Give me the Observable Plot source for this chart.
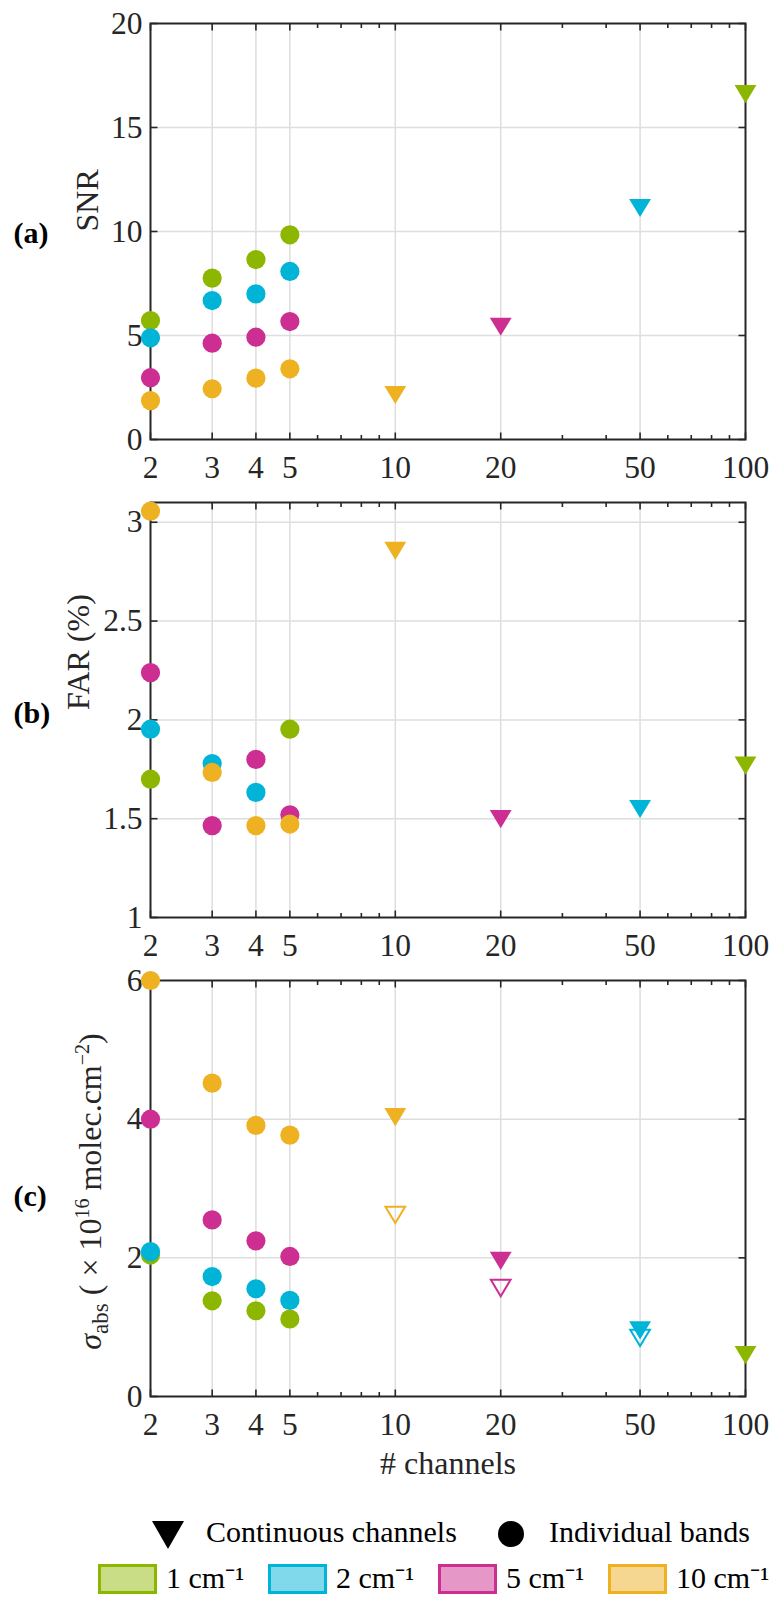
<!DOCTYPE html>
<html><head><meta charset="utf-8">
<script src="https://cdn.jsdelivr.net/npm/d3@7"></script>
<script src="https://cdn.jsdelivr.net/npm/@observablehq/plot@0.6"></script>
<style>
html,body{margin:0;padding:0;background:#fff;}
#page{width:783px;height:1608px;position:relative;overflow:hidden;background:#fff;}
#page svg{display:block;}
#page svg text{font-family:"Liberation Serif","Times New Roman",Times,serif;}
</style></head><body><div id="page"></div>
<script>
const FONT = "Liberation Serif, Times New Roman, Times, serif";
const AXIS = "#262626";
const GRID = "#dedede";

// categories
const resolutions = ["1 cm⁻¹", "2 cm⁻¹", "5 cm⁻¹", "10 cm⁻¹"];
const colors = ["#8db600", "#00b4d8", "#cc2e91", "#eeb122"];
const lightColors = ["#c8dd85", "#80d8eb", "#e597c7", "#f6d791"];
const bandCounts = [2, 3, 4, 5];
const contCounts = [100, 50, 20, 10]; // continuous channel count per resolution

// x axis ticks
const xMajor = [2, 3, 4, 5, 10, 20, 50, 100];
const xMinor = [6, 7, 8, 9, 30, 40, 60, 70, 80, 90];

// (a) SNR — individual bands, per resolution (x = 2,3,4,5)
const snr1 = [5.72, 7.76, 8.65, 9.84];
const snr2 = [4.89, 6.68, 7.00, 8.08];
const snr5 = [2.97, 4.63, 4.92, 5.67];
const snr10 = [1.87, 2.44, 2.95, 3.40];
// (a) SNR — continuous channels (1, 2, 5, 10 cm⁻¹)
const snrCont = [16.6, 11.13, 5.42, 2.14];

// (b) FAR (%) — individual bands
const far1 = [1.70, null, null, 1.953];
const far2 = [1.953, 1.779, 1.633, null];
const far5 = [2.239, 1.465, 1.80, 1.52];
const far10 = [3.056, 1.734, 1.465, 1.473];
const farCont = [1.769, 1.549, 1.498, 2.855];

// (c) sigma_abs — individual bands
const sig1 = [2.04, 1.38, 1.237, 1.118];
const sig2 = [2.09, 1.73, 1.554, 1.386];
const sig5 = [4.00, 2.547, 2.245, 2.02];
const sig10 = [6.00, 4.52, 3.91, 3.77];
const sigCont = [0.597, 0.954, 1.957, 4.03];
const sigContHollow = [null, 0.845, 1.564, 2.62];

function bandRows(series) {
  return series.flatMap((vals, i) =>
    vals.map((v, j) => ({n: bandCounts[j], v, res: resolutions[i]})).filter(d => d.v != null));
}
function contRows(vals) {
  return vals.map((v, i) => ({n: contCounts[i], v, res: resolutions[i]})).filter(d => d.v != null);
}

const triDown = {
  draw(ctx, size) {
    const s = Math.sqrt(size / Math.PI);
    const hw = s * 1.2, hh = s;
    ctx.moveTo(-hw, -hh); ctx.lineTo(hw, -hh); ctx.lineTo(0, hh); ctx.closePath();
  }
};
const tickSym = (dx, dy) => ({draw(ctx) { ctx.moveTo(0, 0); ctx.lineTo(dx, dy); }});

function panel({yDomain, yTicks, bands, cont, hollow, ylabel, ylabelDx, tag, tagDy = 0, height, marginTop, marginBottom, xTitle}) {
  const yGrid = yTicks.filter(t => t > yDomain[0] && t < yDomain[1]);
  const xGrid = xMajor.filter(t => t > 2 && t < 100);
  const tickOpts = {fill: "none", stroke: AXIS, strokeWidth: 1.6};
  const txt = {fill: AXIS, fontSize: 31.5, fontFamily: FONT};
  const marks = [
    Plot.ruleX(xGrid, {x: d => d, stroke: GRID, strokeWidth: 1.5}),
    Plot.ruleY(yGrid, {y: d => d, stroke: GRID, strokeWidth: 1.5}),
    Plot.dot(xMajor, {x: d => d, frameAnchor: "bottom", symbol: tickSym(0, -7), ...tickOpts}),
    Plot.dot(xMinor, {x: d => d, frameAnchor: "bottom", symbol: tickSym(0, -4.5), ...tickOpts}),
    Plot.dot(xMajor, {x: d => d, frameAnchor: "top", symbol: tickSym(0, 7), ...tickOpts}),
    Plot.dot(xMinor, {x: d => d, frameAnchor: "top", symbol: tickSym(0, 4.5), ...tickOpts}),
    Plot.dot(yTicks, {y: d => d, frameAnchor: "left", symbol: tickSym(7, 0), ...tickOpts}),
    Plot.dot(yTicks, {y: d => d, frameAnchor: "right", symbol: tickSym(-7, 0), ...tickOpts}),
    Plot.frame({stroke: AXIS, strokeWidth: 2}),
    Plot.text(xMajor, {x: d => d, frameAnchor: "bottom", dy: 38, lineAnchor: "bottom", text: d => String(d), ...txt}),
    Plot.text(yTicks, {y: d => d, frameAnchor: "left", dx: -8, textAnchor: "end", lineAnchor: "middle", text: d => String(d), ...txt}),
    Plot.text([ylabel], {frameAnchor: "left", dx: ylabelDx, rotate: -90, lineAnchor: "bottom", text: d => d, ...txt, fontSize: 32}),
    Plot.text([tag], {frameAnchor: "left", dx: -137, dy: tagDy, textAnchor: "start", lineAnchor: "middle", text: d => d, ...txt, fontSize: 30, fill: "#000", fontWeight: "bold"}),
    Plot.dot(bandRows(bands), {x: "n", y: "v", fill: "res", r: 9.6, symbol: "circle"}),
    Plot.dot(contRows(cont), {x: "n", y: "v", fill: "res", r: 9.1, symbol: triDown})
  ];
  if (hollow) marks.push(Plot.dot(contRows(hollow), {x: "n", y: "v", stroke: "res", fill: "none", strokeWidth: 2, r: 8.2, symbol: triDown}));
  if (xTitle) marks.push(Plot.text([xTitle], {frameAnchor: "bottom", dy: 77, lineAnchor: "bottom", text: d => d, ...txt, fontSize: 32}));
  return Plot.plot({
    width: 783, height, marginLeft: 150, marginRight: 38, marginTop, marginBottom,
    style: `font-family: ${FONT}; font-size: 30px; background: white; overflow: visible;`,
    x: {type: "log", domain: [2, 100], axis: null},
    y: {domain: yDomain, axis: null},
    color: {domain: resolutions, range: colors},
    marks
  });
}

const page = document.getElementById("page");

page.appendChild(panel({
  yDomain: [0, 20], yTicks: [0, 5, 10, 15, 20],
  bands: [snr1, snr2, snr5, snr10], cont: snrCont,
  ylabel: "SNR", ylabelDx: -53, tag: "(a)", tagDy: 2,
  height: 482, marginTop: 23, marginBottom: 43
}));
page.appendChild(panel({
  yDomain: [1, 3.1], yTicks: [1, 1.5, 2, 2.5, 3],
  bands: [far1, far2, far5, far10], cont: farCont,
  ylabel: "FAR (%)", ylabelDx: -62, tag: "(b)", tagDy: 3,
  height: 478, marginTop: 20, marginBottom: 43
}));
const pc = panel({
  yDomain: [0, 6], yTicks: [0, 2, 4, 6],
  bands: [sig1, sig2, sig5, sig10], cont: sigCont, hollow: sigContHollow,
  ylabel: "σabs (×1016 molec.cm−2)", ylabelDx: -50, tag: "(c)", tagDy: 8,
  height: 526, marginTop: 20, marginBottom: 90, xTitle: "# channels"
});
page.appendChild(pc);

// rich-text the sigma label (subscript / superscripts), centred on the panel
d3.select(pc).selectAll("text").filter(function() { return this.textContent.startsWith("σabs"); })
  .each(function() {
    const t = d3.select(this);
    t.text(null);
    t.append("tspan").attr("font-style", "italic").text("σ");
    t.append("tspan").attr("font-size", "23px").attr("dy", "7").text("abs");
    t.append("tspan").attr("dy", "-7").text(" ( × 10");
    t.append("tspan").attr("font-size", "20px").attr("dy", "-12").text("16");
    t.append("tspan").attr("dy", "12").text(" molec.cm");
    t.append("tspan").attr("font-size", "20px").attr("dy", "-12").text("−2");
    t.append("tspan").attr("dy", "12").text(")");
    t.attr("text-anchor", "start");
    const len = this.getComputedTextLength();
    t.attr("x", -len / 2 - 3);
  });

// legend
const top0 = 1486;
const leg = d3.create("svg").attr("width", 783).attr("height", 1608 - top0)
  .style("font-family", FONT).style("font-size", "30px");
leg.append("path").attr("d", "M152,35L184,35L168,63Z").attr("fill", "#000");
leg.append("text").attr("x", 206).attr("y", 56).attr("fill", "#000").text("Continuous channels");
leg.append("circle").attr("cx", 511).attr("cy", 48).attr("r", 13).attr("fill", "#000");
leg.append("text").attr("x", 549).attr("y", 56).attr("fill", "#000").text("Individual bands");
const sqX = [98, 268, 438, 608];
resolutions.forEach((r, i) => {
  leg.append("rect").attr("x", sqX[i] + 1.5).attr("y", 79.5).attr("width", 56).attr("height", 27)
    .attr("fill", lightColors[i]).attr("stroke", colors[i]).attr("stroke-width", 3);
  leg.append("text").attr("x", sqX[i] + 68).attr("y", 102).attr("fill", "#000").text(r);
});
page.appendChild(leg.node());
</script></body></html>
